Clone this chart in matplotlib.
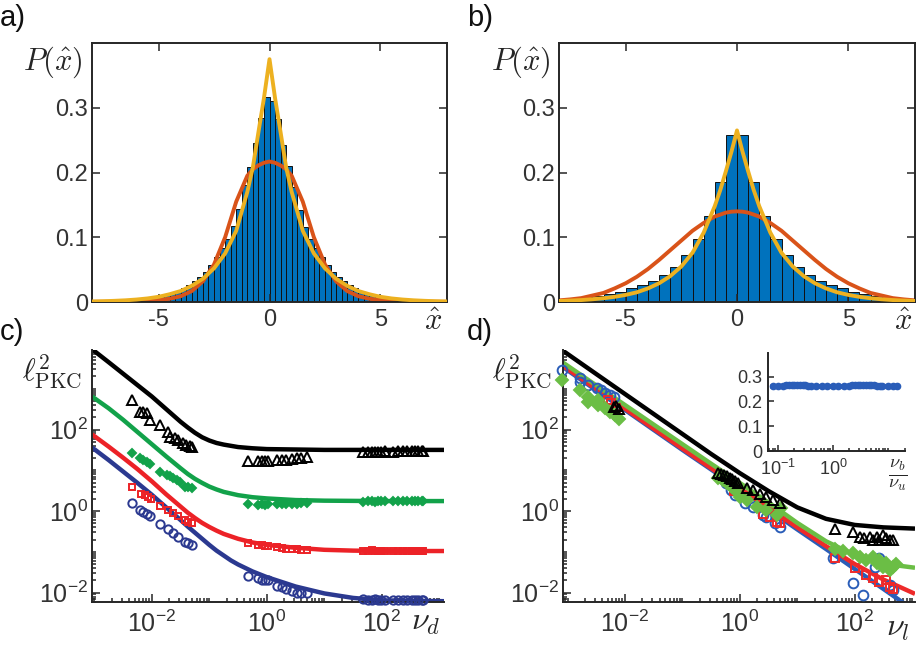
import numpy as np
import matplotlib
matplotlib.use("Agg")
import matplotlib.pyplot as plt
from matplotlib.ticker import FixedLocator, LogLocator, NullFormatter, FixedFormatter

plt.rcParams['font.family'] = ['Liberation Sans', 'DejaVu Sans']
plt.rcParams['mathtext.fontset'] = 'cm'
plt.rcParams['axes.unicode_minus'] = False

# ---------------- data: panel a ----------------
a_bin_width = 0.25
a_bin_left = -6.0
a_heights = [0.003, 0.004, 0.005, 0.007, 0.009, 0.011, 0.014, 0.017, 0.021, 0.026, 0.032, 0.039,
             0.047, 0.057, 0.069, 0.083, 0.098, 0.117, 0.143, 0.180, 0.208, 0.245, 0.284, 0.317,
             0.311, 0.283, 0.243, 0.210, 0.178, 0.142, 0.116, 0.098, 0.083, 0.069, 0.057, 0.047,
             0.039, 0.032, 0.026, 0.021, 0.017, 0.014, 0.011, 0.009, 0.007, 0.005, 0.004, 0.003]
curve_x = [-8, -7.5, -7, -6.5, -6, -5.5, -5, -4.5, -4, -3.5, -3, -2.5, -2, -1.5,
           -1, -0.75, -0.5, -0.25, 0, 0.25, 0.5, 0.75, 1,
           1.5, 2, 2.5, 3, 3.5, 4, 4.5, 5, 5.5, 6, 6.5, 7, 7.5, 8]
a_orange = [0.0003, 0.0004, 0.0005, 0.0008, 0.0012, 0.0018, 0.003, 0.005, 0.009, 0.017, 0.032, 0.058, 0.100, 0.155,
            0.195, 0.205, 0.211, 0.215, 0.217, 0.215, 0.211, 0.205, 0.195,
            0.155, 0.100, 0.058, 0.032, 0.017, 0.009, 0.005, 0.003, 0.0018, 0.0012, 0.0008, 0.0005, 0.0004, 0.0003]
a_yellow = [0.0008, 0.0012, 0.0018, 0.0026, 0.0038, 0.0055, 0.008, 0.012, 0.017, 0.025, 0.036, 0.052, 0.075, 0.110,
            0.170, 0.208, 0.262, 0.315, 0.375, 0.315, 0.262, 0.208, 0.170,
            0.110, 0.075, 0.052, 0.036, 0.025, 0.017, 0.012, 0.008, 0.0055, 0.0038, 0.0026, 0.0018, 0.0012, 0.0008]

# ---------------- data: panel b ----------------
b_bin_width = 0.5
b_bin_left = -8.0
b_heights = [0.003, 0.005, 0.007, 0.009, 0.012, 0.016, 0.021, 0.026, 0.032, 0.041, 0.054, 0.072, 0.097, 0.133, 0.186, 0.258,
             0.258, 0.186, 0.133, 0.097, 0.072, 0.054, 0.041, 0.032, 0.026, 0.021, 0.016, 0.012, 0.009, 0.007, 0.005, 0.003]
b_orange = [0.0025, 0.004, 0.006, 0.010, 0.014, 0.021, 0.029, 0.039, 0.051, 0.065, 0.080, 0.095, 0.110, 0.122,
            0.132, 0.135, 0.138, 0.1395, 0.140, 0.1395, 0.138, 0.135, 0.132,
            0.122, 0.110, 0.095, 0.080, 0.065, 0.051, 0.039, 0.029, 0.021, 0.014, 0.010, 0.006, 0.004, 0.0025]
b_yellow = [0.0016, 0.0022, 0.003, 0.0042, 0.0058, 0.008, 0.011, 0.015, 0.021, 0.029, 0.040, 0.055, 0.076, 0.107,
            0.148, 0.173, 0.202, 0.232, 0.265, 0.232, 0.202, 0.173, 0.148,
            0.107, 0.076, 0.055, 0.040, 0.029, 0.021, 0.015, 0.011, 0.008, 0.0058, 0.0042, 0.003, 0.0022, 0.0016]

# ---------------- data: panel c (log10 values) ----------------
c_line_x = [-3.04, -2.75, -2.5, -2.25, -2, -1.75, -1.5, -1.375, -1.25, -1.125, -1, -0.875, -0.75, -0.625,
            -0.5, -0.25, 0, 0.5, 1, 1.5, 2, 3.08]
c_line_black = [3.97, 3.65, 3.37, 3.09, 2.81, 2.50, 2.19, 2.05, 1.92, 1.81, 1.73, 1.67, 1.63, 1.60,
                1.57, 1.54, 1.52, 1.51, 1.50, 1.50, 1.50, 1.50]
c_line_green = [2.81, 2.52, 2.24, 1.94, 1.64, 1.34, 1.05, 0.91, 0.79, 0.69, 0.60, 0.53, 0.47, 0.43,
                0.39, 0.34, 0.31, 0.27, 0.255, 0.25, 0.245, 0.245]
c_line_red = [1.88, 1.58, 1.31, 1.03, 0.73, 0.41, 0.11, -0.04, -0.17, -0.29, -0.39, -0.48, -0.56, -0.62,
              -0.68, -0.77, -0.83, -0.90, -0.95, -0.97, -0.98, -0.98]
c_line_blue = [1.56, 1.25, 0.97, 0.69, 0.40, 0.09, -0.22, -0.38, -0.53, -0.68, -0.83, -0.97, -1.09, -1.21,
               -1.31, -1.48, -1.62, -1.85, -2.02, -2.13, -2.19, -2.21]

grp2_x = [-0.33, -0.15, -0.09, -0.03, 0.02, 0.17, 0.26, 0.34, 0.43, 0.52, 0.60, 0.69]
grp3_x = [1.67, 1.76, 1.82, 1.88, 1.94, 1.99, 2.05, 2.20, 2.28, 2.37, 2.43, 2.52, 2.57, 2.63, 2.69, 2.72]

c_black_x = [-2.35, -2.21, -2.15, -2.09, -2.03, -1.86, -1.72, -1.69, -1.60, -1.54, -1.46, -1.40, -1.34, -1.31] + grp2_x + grp3_x
c_black_y = [2.72, 2.44, 2.44, 2.41, 2.23, 2.11, 1.95, 1.82, 1.78, 1.74, 1.66, 1.62, 1.60, 1.58,
             1.23, 1.22, 1.23, 1.22, 1.23, 1.25, 1.25, 1.26, 1.27, 1.29, 1.31, 1.32,
             1.44, 1.45, 1.46, 1.45, 1.46, 1.46, 1.47, 1.46, 1.47, 1.47, 1.47, 1.48, 1.47, 1.48, 1.48, 1.48]
c_green_x = [-2.35, -2.21, -2.15, -2.09, -2.03, -1.86, -1.74, -1.69, -1.63, -1.57, -1.51, -1.43, -1.37, -1.31] + grp2_x + grp3_x
c_green_y = [1.42, 1.29, 1.25, 1.21, 1.15, 0.96, 0.88, 0.86, 0.80, 0.76, 0.72, 0.60, 0.58, 0.56,
             0.17, 0.16, 0.17, 0.16, 0.17, 0.17, 0.18, 0.17, 0.18, 0.18, 0.19, 0.19,
             0.23, 0.24, 0.24, 0.23, 0.24, 0.24, 0.24, 0.24, 0.25, 0.24, 0.24, 0.25, 0.24, 0.25, 0.24, 0.25]
c_red_x = [-2.34, -2.18, -2.12, -2.06, -2.01, -1.85, -1.72, -1.63, -1.54, -1.43, -1.37, -1.31] + grp2_x + grp3_x
c_red_y = [0.60, 0.43, 0.39, 0.34, 0.29, 0.13, 0.02, -0.04, -0.12, -0.22, -0.26, -0.30,
           -0.78, -0.83, -0.83, -0.85, -0.86, -0.89, -0.90, -0.92, -0.94, -0.94, -0.96, -0.96,
           -0.97, -0.97, -0.96, -0.97, -0.97, -0.98, -0.97, -0.97, -0.98, -0.97, -0.97, -0.98, -0.97, -0.98, -0.97, -0.97]
c_blue_x = [-2.35, -2.21, -2.15, -2.09, -2.03, -1.86, -1.72, -1.63, -1.54, -1.43, -1.37, -1.31] + grp2_x + grp3_x
c_blue_y = [0.19, 0.02, -0.02, -0.06, -0.12, -0.32, -0.45, -0.55, -0.63, -0.75, -0.79, -0.83,
            -1.60, -1.65, -1.68, -1.69, -1.69, -1.84, -1.87, -1.92, -1.96, -2.00, -2.02, -2.00,
            -2.16, -2.17, -2.17, -2.16, -2.17, -2.18, -2.17, -2.17, -2.18, -2.17, -2.17, -2.18, -2.17, -2.18, -2.17, -2.17]

# ---------------- data: panel d (log10 values) ----------------
d_line_x = [-3.1, -2.5, -2, -1.5, -1, -0.5, 0, 0.5, 1, 1.5, 2, 2.5, 3.05]
d_line_black = [3.95, 3.36, 2.87, 2.38, 1.89, 1.40, 0.93, 0.49, 0.09, -0.19, -0.34, -0.40, -0.43]
d_line_green = [3.66, 3.08, 2.60, 2.12, 1.64, 1.16, 0.69, 0.21, -0.29, -0.74, -1.08, -1.29, -1.39]
d_line_red = [3.58, 2.99, 2.51, 2.02, 1.53, 1.05, 0.56, 0.08, -0.40, -0.86, -1.30, -1.68, -2.03]
d_line_blue = [3.55, 2.96, 2.48, 1.99, 1.50, 1.02, 0.53, 0.04, -0.45, -0.93, -1.42, -1.91, -2.45]

d_blue_x = [-3.10, -2.78, -2.78, -2.64, -2.49, -2.41, -2.35, -2.26, -2.20,
            -0.25, -0.15, -0.08, 0.09, 0.23, 0.41, 0.46, 0.62, 0.70,
            1.62, 1.97, 2.14, 2.35, 2.43, 2.61, 2.67]
d_blue_y = [3.46, 3.26, 3.17, 3.09, 3.01, 2.97, 2.89, 2.85, 2.80,
            0.70, 0.52, 0.40, 0.19, 0.11, -0.10, -0.14, -0.30, -0.39,
            -1.16, -1.77, -2.06, -1.37, -1.16, -1.82, -1.94]
d_green_x = [-3.10, -2.78, -2.64, -2.64, -2.47, -2.47, -2.35, -2.26, -2.17, -2.11,
             -0.38, -0.30, -0.22, -0.15, -0.08, 0.0, 0.12, 0.29, 0.46, 0.64, 0.72,
             1.65, 1.80, 1.97, 2.09, 2.20, 2.32, 2.38, 2.43, 2.49, 2.55, 2.61, 2.67, 2.72]
d_green_y = [3.21, 2.97, 2.80, 2.68, 2.72, 2.60, 2.52, 2.44, 2.36, 2.27,
             0.80, 0.75, 0.70, 0.62, 0.52, 0.35, 0.27, 0.11, 0.02, -0.10, 0.08,
             -0.92, -0.98, -1.04, -1.12, -1.20, -1.12, -1.28, -1.20, -1.37, -1.28, -1.45, -1.37, -1.30]
d_red_x = [-2.30, -2.24, -2.15, -0.10, 0.41, 0.52, 0.64, 0.70,
           1.65, 2.00, 2.20, 2.32, 2.43, 2.55, 2.61, 2.67]
d_red_y = [2.72, 2.64, 2.52, 0.50, -0.06, -0.14, -0.26, -0.30,
           -1.16, -1.40, -1.57, -1.65, -1.73, -1.69, -1.86, -1.90]
d_black_x = [-2.20, -2.15, -2.10,
             -0.38, -0.33, -0.28, -0.23, -0.18, -0.13, -0.08, -0.03, 0.12, 0.23, 0.35, 0.46, 0.58, 0.70,
             1.65, 1.97, 2.09, 2.17, 2.26, 2.32, 2.38, 2.43, 2.49, 2.55, 2.61, 2.67]
d_black_y = [2.55, 2.58, 2.50,
             0.93, 0.90, 0.88, 0.85, 0.82, 0.78, 0.74, 0.70, 0.56, 0.52, 0.43, 0.35, 0.27, 0.19,
             -0.43, -0.51, -0.63, -0.67, -0.63, -0.71, -0.63, -0.71, -0.59, -0.67, -0.71, -0.71]

inset_x = [-1.09, -1.0, -0.9, -0.85, -0.8, -0.75, -0.7, -0.65, -0.6, -0.55, -0.5, -0.45, -0.4, -0.3, -0.2,
           -0.1, 0.0, 0.1, 0.2, 0.3, 0.35, 0.4, 0.45, 0.5, 0.55, 0.6, 0.65, 0.7, 0.75, 0.8, 0.85, 0.9,
           1.0, 1.1, 1.17]
inset_y = [0.26, 0.26, 0.262, 0.268, 0.268, 0.266, 0.268, 0.266, 0.268, 0.268, 0.266, 0.264, 0.26, 0.26, 0.26,
           0.26, 0.26, 0.26, 0.26, 0.262, 0.268, 0.268, 0.266, 0.268, 0.266, 0.268, 0.268, 0.266, 0.268, 0.264, 0.262, 0.26,
           0.26, 0.26, 0.26]

# ---------------- styling ----------------
C_BAR = '#0072BD'
C_OR = '#D95319'
C_YE = '#EDB120'
C_AX = '#262626'
c_cols = {'k': '#000000', 'g': '#12A24A', 'r': '#EC2227', 'b': '#2B3990'}
d_cols = {'k': '#000000', 'g': '#6BBE45', 'r': '#EE2A2A', 'b': '#2A5DB8'}

W, H = 917, 646
fig = plt.figure(figsize=(W / 100, H / 100), dpi=100)


def rect(l, t, r, b):
    return [l / W, 1 - b / H, (r - l) / W, (b - t) / H]


def fpos(x, y):
    return x / W, 1 - y / H


def style_axes(ax, box, size=17):
    for s in ax.spines.values():
        s.set_color(C_AX)
        s.set_linewidth(1.4)
    if not box:
        ax.spines['top'].set_visible(False)
        ax.spines['right'].set_visible(False)
    ax.tick_params(which='both', direction='in', colors=C_AX, labelcolor='#333333', labelsize=size,
                   width=1.1, top=box, right=box)
    ax.tick_params(which='major', length=6)
    ax.tick_params(which='minor', length=3)


def hist_panel(ax, left, width, heights, orange, yellow):
    centers = left + width * (np.arange(len(heights)) + 0.5)
    ax.bar(centers, heights, width=width, color=C_BAR, edgecolor='#111111', linewidth=0.7, zorder=1)
    ax.plot(curve_x, orange, color=C_OR, lw=2.8, zorder=2, solid_capstyle='round')
    ax.plot(curve_x, yellow, color=C_YE, lw=2.8, zorder=3, solid_capstyle='round')
    ax.set_xlim(-8, 8)
    ax.set_ylim(0, 0.4)
    ax.set_xticks([-5, 0, 5])
    ax.set_xticklabels(['-5', '0', '5'])
    ax.set_yticks([0, 0.1, 0.2, 0.3])
    ax.set_yticklabels(['0', '0.1', '0.2', '0.3'])
    style_axes(ax, True)
    ax.tick_params(axis='x', pad=5)
    ax.tick_params(axis='y', pad=3)


ax_a = fig.add_axes(rect(92, 43, 447, 302))
hist_panel(ax_a, a_bin_left, a_bin_width, a_heights, a_orange, a_yellow)
ax_b = fig.add_axes(rect(559, 43, 915, 302))
hist_panel(ax_b, b_bin_left, b_bin_width, b_heights, b_orange, b_yellow)


def log_panel(ax, xlim, cols, lines_x, lines, markers):
    ax.set_xscale('log')
    ax.set_yscale('log')
    for key in ['b', 'r', 'g', 'k']:
        ax.plot(10.0 ** np.array(lines_x), 10.0 ** np.array(lines[key]), color=cols[key], lw=3.2,
                zorder=2, solid_capstyle='butt', solid_joinstyle='round')
    for key, (xs, ys, mk, ms, filled) in markers.items():
        ax.plot(10.0 ** np.array(xs), 10.0 ** np.array(ys), linestyle='none', marker=mk, ms=ms,
                mec=cols[key], mfc=cols[key] if filled else 'none', mew=1.4, zorder=3, clip_on=False)
    ax.set_xlim(10.0 ** xlim[0], 10.0 ** xlim[1])
    ax.set_ylim(10.0 ** -2.23, 10.0 ** 3.95)
    maj = [1e-2, 1e0, 1e2]
    labs = [r'$\mathregular{10^{-2}}$', r'$\mathregular{10^{0}}$', r'$\mathregular{10^{2}}$']
    for axis in (ax.xaxis, ax.yaxis):
        axis.set_major_locator(FixedLocator(maj))
        axis.set_major_formatter(FixedFormatter(labs))
        axis.set_minor_locator(LogLocator(base=10, subs=np.arange(1, 10), numticks=30))
        axis.set_minor_formatter(NullFormatter())
    style_axes(ax, False, 18)
    ax.tick_params(axis='x', pad=6)
    ax.tick_params(axis='y', pad=3)


ax_c = fig.add_axes(rect(92, 350, 444, 602))
log_panel(ax_c, (-3.04, 3.08), c_cols, c_line_x,
          {'k': c_line_black, 'g': c_line_green, 'r': c_line_red, 'b': c_line_blue},
          {'b': (c_blue_x, c_blue_y, 'o', 6, False),
           'r': (c_red_x, c_red_y, 's', 5, False),
           'g': (c_green_x, c_green_y, 'D', 4.5, True),
           'k': (c_black_x, c_black_y, '^', 7, False)})

ax_d = fig.add_axes(rect(563, 350, 915, 602))
log_panel(ax_d, (-3.08, 3.05), d_cols, d_line_x,
          {'k': d_line_black, 'g': d_line_green, 'r': d_line_red, 'b': d_line_blue},
          {'b': (d_blue_x, d_blue_y, 'o', 7, False),
           'r': (d_red_x, d_red_y, 's', 6, False),
           'g': (d_green_x, d_green_y, 'D', 6, True),
           'k': (d_black_x, d_black_y, '^', 7.5, False)})

# inset
ax_i = fig.add_axes(rect(768, 353, 905, 451))
ax_i.set_xscale('log')
ax_i.plot(10.0 ** np.array(inset_x), inset_y, color='#2A5DB8', lw=3.5, marker='o', ms=4.5, zorder=3)
ax_i.set_xlim(10 ** -1.18, 10 ** 1.31)
ax_i.set_ylim(0, 0.395)
ax_i.set_yticks([0, 0.1, 0.2, 0.3])
ax_i.set_yticklabels(['0', '0.1', '0.2', '0.3'])
ax_i.xaxis.set_major_locator(FixedLocator([0.1, 1.0]))
ax_i.xaxis.set_major_formatter(FixedFormatter([r'$\mathregular{10^{-1}}$', r'$\mathregular{10^{0}}$']))
ax_i.xaxis.set_minor_locator(LogLocator(base=10, subs=np.arange(1, 10), numticks=30))
ax_i.xaxis.set_minor_formatter(NullFormatter())
style_axes(ax_i, False, 13)
ax_i.tick_params(axis='y', pad=4)
ax_i.tick_params(axis='x', pad=6)
ax_i.tick_params(which='major', length=4)
ax_i.tick_params(which='minor', length=2)
ax_i.patch.set_alpha(0)

# texts
for lab, (x, y) in {'a)': (0, 4), 'b)': (467, 4), 'c)': (0, 318), 'd)': (467, 318)}.items():
    fig.text(*fpos(x, y), lab, fontsize=21, ha='left', va='top', color='#111111')

fig.text(*fpos(53, 62), r'$P(\hat{x})$', fontsize=22, ha='center', va='center', color=C_AX)
fig.text(*fpos(521, 62), r'$P(\hat{x})$', fontsize=22, ha='center', va='center', color=C_AX)
fig.text(*fpos(433, 322), r'$\hat{x}$', fontsize=22, ha='center', va='center', color=C_AX)
fig.text(*fpos(903, 322), r'$\hat{x}$', fontsize=22, ha='center', va='center', color=C_AX)
fig.text(*fpos(52, 372), r'$\ell^2_{\rm PKC}$', fontsize=22, ha='center', va='center', color=C_AX)
fig.text(*fpos(522, 372), r'$\ell^2_{\rm PKC}$', fontsize=22, ha='center', va='center', color=C_AX)
fig.text(*fpos(426, 622), r'$\nu_d$', fontsize=23, ha='center', va='center', color=C_AX)
fig.text(*fpos(898, 628), r'$\nu_l$', fontsize=23, ha='center', va='center', color=C_AX)
fig.text(*fpos(898, 475), r'$\frac{\nu_b}{\nu_u}$', fontsize=19, ha='center', va='center', color=C_AX)

fig.savefig('out.png', dpi=100)
